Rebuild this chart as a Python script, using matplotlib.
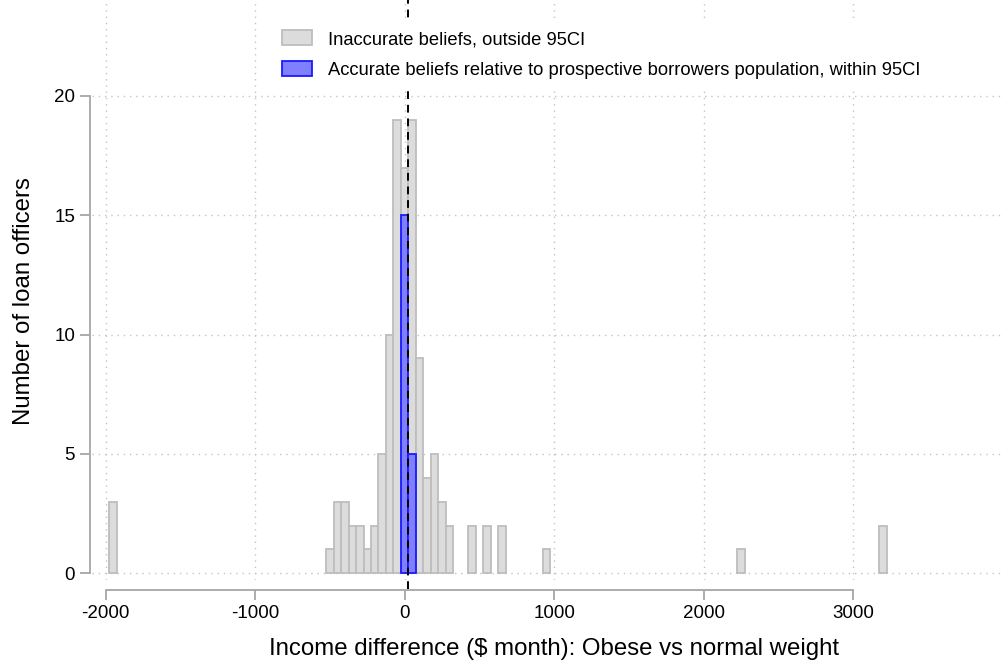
import matplotlib.pyplot as plt
import numpy as np

plt.rcParams.update({
    'font.family': ['Liberation Sans', 'DejaVu Sans'],
    'font.size': 13,
    'axes.unicode_minus': False,
})

# histogram bins (width 50), centres and counts
bin_width = 50
all_centers = [-1950, -500, -450, -400, -350, -300, -250, -200, -150, -100, -50,
               0, 50, 100, 150, 200, 250, 300, 450, 550, 650, 950, 2250, 3200]
all_counts = [3, 1, 3, 3, 2, 2, 1, 2, 5, 10, 19,
              17, 19, 9, 4, 5, 3, 2, 2, 2, 2, 1, 1, 2]
acc_centers = [0, 50]
acc_counts = [15, 5]
ref_line = 20

x_ticks = [-2000, -1000, 0, 1000, 2000, 3000]
y_ticks = [0, 5, 10, 15, 20]

gray_fill = '#dcdcdc'
gray_edge = '#bdbdbd'
blue_fill = '#8080ff'
blue_edge = '#1a1aff'
axis_col = '#a6a6a6'
grid_col = '#c4c4c4'

fig = plt.figure(figsize=(10.05, 6.62), dpi=100)
ax = fig.add_axes([0.0915, 0.124, 0.9085, 0.876])

ax.bar(all_centers, all_counts, width=bin_width, color=gray_fill,
       edgecolor=gray_edge, linewidth=1.3, zorder=2,
       label='Inaccurate beliefs, outside 95CI')
ax.bar(acc_centers, acc_counts, width=bin_width, color=blue_fill,
       edgecolor=blue_edge, linewidth=1.3, zorder=3,
       label='Accurate beliefs relative to prospective borrowers population, within 95CI')
ax.axvline(ref_line, ymin=-0.015, ymax=1, color='black', ls=(0, (4, 3)),
           lw=1.4, zorder=4, clip_on=False)

ax.set_xlim(-2091, 4015)
ax.set_ylim(-0.28, 24.02)
ax.set_xticks(x_ticks)
ax.set_yticks(y_ticks)

ax.grid(True, color=grid_col, ls=(0, (1, 3.5)), lw=1.0, zorder=0)
ax.set_axisbelow(True)

for side in ['top', 'right']:
    ax.spines[side].set_visible(False)
ax.spines['left'].set_position(('outward', 1.5))
ax.spines['bottom'].set_position(('outward', 7.2))
ax.spines['left'].set_bounds(0, 20)
ax.spines['bottom'].set_bounds(-2000, 3000)
for side in ['left', 'bottom']:
    ax.spines[side].set_color(axis_col)
    ax.spines[side].set_linewidth(1.3)
ax.tick_params(axis='both', color=axis_col, width=1.3, length=7.2,
               labelsize=13.5)
ax.tick_params(axis='y', pad=3.5)
ax.tick_params(axis='x', pad=4)

ax.set_xlabel('Income difference ($ month): Obese vs normal weight',
              fontsize=17.3)
ax.set_ylabel('Number of loan officers', fontsize=17.3)
ax.xaxis.set_label_coords(0.506, -0.0995)
ax.yaxis.set_label_coords(-0.0625, 0.481)

leg = ax.legend(loc='upper left', bbox_to_anchor=(0.2677, 0.9728),
                bbox_transform=fig.transFigure, fontsize=13.2,
                frameon=True, facecolor='white', edgecolor='none',
                framealpha=1, fancybox=False, borderpad=0.68,
                borderaxespad=0,
                handlelength=1.66, handleheight=0.87, handletextpad=0.87,
                labelspacing=0.71)
leg.set_zorder(5)

fig.savefig('out.png', dpi=100)
